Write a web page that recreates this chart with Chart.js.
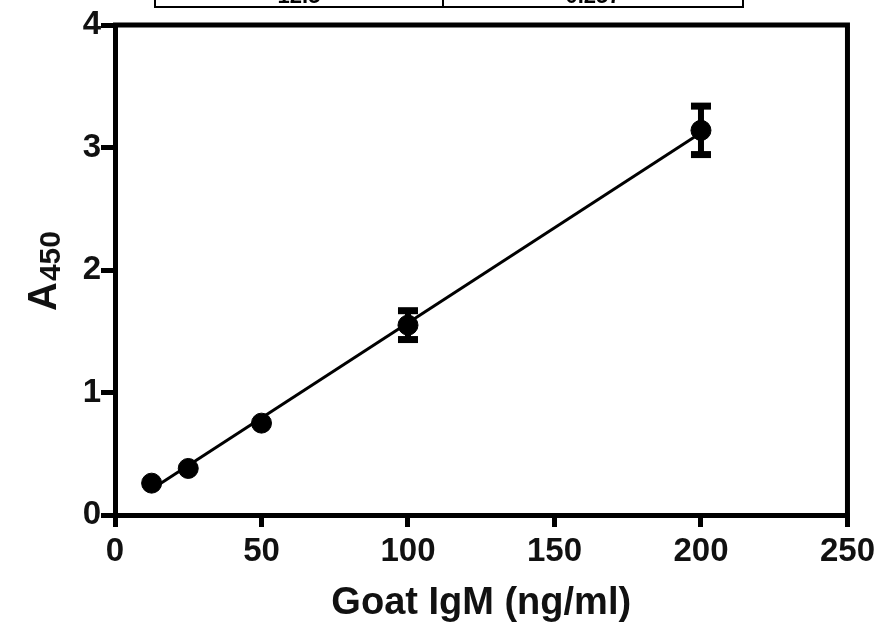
<!DOCTYPE html>
<html>
<head>
<meta charset="utf-8">
<script src="https://cdn.jsdelivr.net/npm/chart.js@4/dist/chart.umd.min.js"></script>
<style>
html,body{margin:0;padding:0;background:#fff;}
#wrap{position:relative;width:880px;height:626px;}
</style>
</head>
<body>
<div id="wrap"><canvas id="c" width="880" height="626"></canvas></div>
<script>
// Data
const concentrations = [12.5, 25, 50, 100, 200];      // Goat IgM (ng/ml)
const absorbance     = [0.26, 0.38, 0.75, 1.55, 3.14]; // A450 means
const sdErrors       = [0, 0, 0, 0.13, 0.21];          // error bar half-heights
const fitX = [12.5, 200];
const fitY = [0.21, 3.12];
const xTicks = [0, 50, 100, 150, 200, 250];
const yTicks = [0, 1, 2, 3, 4];
const tableCells = ["12.5", "0.257"];

const FONT = "'Liberation Sans', Arial, sans-serif";

const framePlugin = {
  id: 'frame',
  afterDraw(chart) {
    const {ctx, chartArea: a} = chart;
    ctx.save();
    ctx.strokeStyle = '#000';
    ctx.lineWidth = 5;
    ctx.beginPath();
    ctx.moveTo(a.left - 2, a.top);
    ctx.lineTo(a.right, a.top);
    ctx.lineTo(a.right, a.bottom);
    ctx.stroke();
    // y title A450
    ctx.fillStyle = '#111';
    ctx.translate(56, 311);
    ctx.rotate(-Math.PI / 2);
    ctx.textBaseline = 'alphabetic';
    ctx.textAlign = 'left';
    ctx.font = "bold 40px " + FONT;
    ctx.fillText('A', 0, 0);
    const w = ctx.measureText('A').width;
    ctx.font = "bold 30px " + FONT;
    ctx.fillText('450', w + 1, 4);
    ctx.restore();

    // cut-off table at top
    ctx.save();
    ctx.strokeStyle = '#000';
    ctx.lineWidth = 2;
    ctx.beginPath();
    ctx.moveTo(155, -2); ctx.lineTo(155, 7); ctx.lineTo(743, 7); ctx.lineTo(743, -2);
    ctx.moveTo(443, -2); ctx.lineTo(443, 7);
    ctx.stroke();
    ctx.fillStyle = '#000';
    ctx.font = "bold 22px " + FONT;
    ctx.textAlign = 'center';
    ctx.textBaseline = 'alphabetic';
    ctx.fillText(tableCells[0], 299, 3);
    ctx.fillText(tableCells[1], 593, 3);
    ctx.restore();
  },
  afterDatasetsDraw(chart) {
    const {ctx, scales} = chart;
    const xs = scales.x, ys = scales.y;
    ctx.save();
    ctx.fillStyle = '#000';
    concentrations.forEach((c, i) => {
      const e = sdErrors[i];
      if (!e) return;
      const px = xs.getPixelForValue(c);
      const top = ys.getPixelForValue(absorbance[i] + e);
      const bot = ys.getPixelForValue(absorbance[i] - e);
      ctx.fillRect(px - 3, top, 6, bot - top);
      ctx.fillRect(px - 10, top - 2, 20, 7);
      ctx.fillRect(px - 10, bot - 5, 20, 7);
    });
    ctx.restore();
  }
};

new Chart(document.getElementById('c'), {
  type: 'scatter',
  data: {
    datasets: [
      {
        type: 'line',
        data: fitX.map((x, i) => ({x, y: fitY[i]})),
        borderColor: '#000',
        borderWidth: 3,
        pointRadius: 0,
        fill: false,
        order: 2
      },
      {
        data: concentrations.map((x, i) => ({x, y: absorbance[i]})),
        backgroundColor: '#000',
        borderColor: '#000',
        pointRadius: 10,
        pointHoverRadius: 10,
        showLine: false,
        order: 1
      }
    ]
  },
  options: {
    responsive: false,
    animation: false,
    events: [],
    layout: {padding: {left: 0, right: 30, top: 25, bottom: 0}},
    plugins: {legend: {display: false}, tooltip: {enabled: false}},
    scales: {
      x: {
        type: 'linear',
        min: 0, max: 250,
        afterBuildTicks(s) { s.ticks = xTicks.map(v => ({value: v})); },
        afterFit(s) { s.height = 111; },
        grid: {drawOnChartArea: false, drawTicks: true, tickLength: 12, lineWidth: 5, color: '#000'},
        border: {display: true, width: 5, color: '#000'},
        ticks: {color: '#111', font: {family: FONT, size: 33, weight: 'bold'}, padding: 5, maxRotation: 0},
        title: {display: true, text: 'Goat IgM (ng/ml)', color: '#111', font: {family: FONT, size: 38, weight: 'bold'}, padding: {top: 0, bottom: 0}}
      },
      y: {
        type: 'linear',
        min: 0, max: 4,
        afterBuildTicks(s) { s.ticks = yTicks.map(v => ({value: v})); },
        afterFit(s) { s.width = 115; },
        grid: {drawOnChartArea: false, drawTicks: true, tickLength: 14, lineWidth: 5, color: '#000'},
        border: {display: true, width: 5, color: '#000'},
        ticks: {color: '#111', font: {family: FONT, size: 33, weight: 'bold'}, padding: 0}
      }
    }
  },
  plugins: [framePlugin]
});
</script>
</body>
</html>
